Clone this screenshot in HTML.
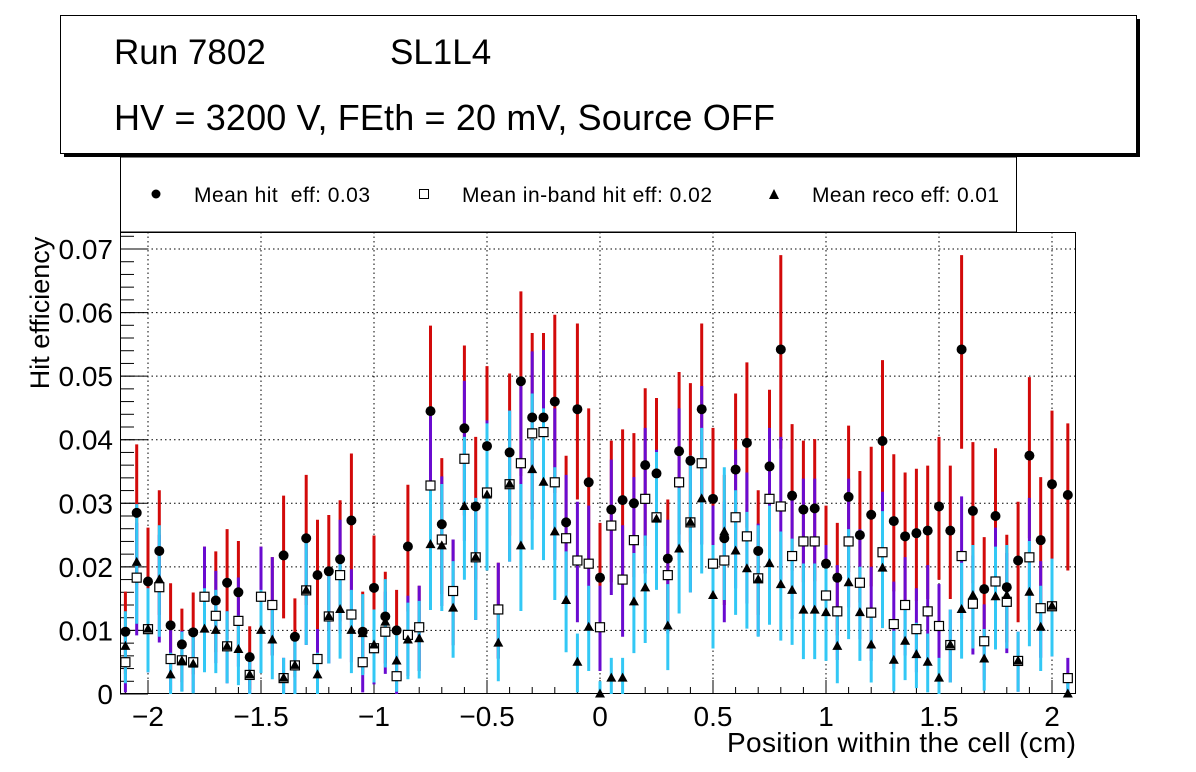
<!DOCTYPE html>
<html><head><meta charset="utf-8"><style>
html,body{margin:0;padding:0;background:#fff;}
svg{display:block;font-family:"Liberation Sans",sans-serif;}
</style></head><body>
<svg id="c" width="1196" height="772" viewBox="0 0 1196 772" xmlns="http://www.w3.org/2000/svg">
<rect x="0" y="0" width="1196" height="772" fill="#fff"/>
<rect x="64" y="19" width="1076" height="138" fill="#000"/>
<rect x="60.5" y="15.5" width="1076" height="138" fill="#fff" stroke="#000" stroke-width="1"/>
<text x="114" y="64" font-size="35">Run 7802</text>
<text x="390" y="64" font-size="35">SL1L4</text>
<text x="114" y="130" font-size="36" textLength="661">HV = 3200 V, FEth = 20 mV, Source OFF</text>
<g>
<rect x="120.5" y="157" width="896" height="75" fill="#fff" stroke="#000" stroke-width="1"/>
<circle cx="156" cy="194" r="4.5" fill="#000"/>
<text x="194" y="202" font-size="21" textLength="176" xml:space="preserve">Mean hit  eff: 0.03</text>
<rect x="419.5" y="189.5" width="9" height="9" fill="#fff" stroke="#000"/>
<text x="462" y="202" font-size="21" textLength="250">Mean in-band hit eff: 0.02</text>
<path d="M774 189 L779 199 L769 199 Z" fill="#000"/>
<text x="812" y="202" font-size="21" textLength="187">Mean reco eff: 0.01</text>
</g>
<g id="grid"></g><g id="axes"></g><g id="marks"></g>
<text x="42" y="313" font-size="27" text-anchor="middle" dominant-baseline="middle" transform="rotate(-90 42 313)">Hit efficiency</text>
<text x="1076" y="752" font-size="28" text-anchor="end" textLength="349">Position within the cell (cm)</text>
</svg>
<script>
const xCenters = [-2.1,-2.05,-2.0,-1.95,-1.9,-1.85,-1.8,-1.75,-1.7,-1.65,-1.6,-1.55,-1.5,-1.45,-1.4,-1.35,-1.3,-1.25,-1.2,-1.15,-1.1,-1.05,-1.0,-0.95,-0.9,-0.85,-0.8,-0.75,-0.7,-0.65,-0.6,-0.55,-0.5,-0.45,-0.4,-0.35,-0.3,-0.25,-0.2,-0.15,-0.1,-0.05,0,0.05,0.1,0.15,0.2,0.25,0.3,0.35,0.4,0.45,0.5,0.55,0.6,0.65,0.7,0.75,0.8,0.85,0.9,0.95,1.0,1.05,1.1,1.15,1.2,1.25,1.3,1.35,1.4,1.45,1.5,1.55,1.6,1.65,1.7,1.75,1.8,1.85,1.9,1.95,2.0,2.07];
const hitEff = [0.0098,0.0285,0.0177,0.0225,0.0108,0.0078,0.0097,0.0153,0.0147,0.0175,0.016,0.0058,0.0153,0.014,0.0218,0.009,0.0245,0.0187,0.0193,0.0212,0.0273,0.0098,0.0167,0.0122,0.01,0.0232,0.0105,0.0445,0.0267,0.0162,0.0418,0.0295,0.039,0.0133,0.038,0.0492,0.0435,0.0435,0.046,0.027,0.0448,0.0333,0.0183,0.029,0.0305,0.03,0.036,0.0347,0.0213,0.0382,0.0367,0.0448,0.0307,0.0245,0.0353,0.0395,0.0225,0.0358,0.0542,0.0312,0.029,0.0292,0.0205,0.0183,0.031,0.025,0.0282,0.0398,0.0272,0.0248,0.0253,0.0257,0.0295,0.0257,0.0542,0.0288,0.0165,0.028,0.0168,0.021,0.0375,0.0242,0.033,0.0313];
const inbandEff = [0.005,0.0183,0.0102,0.0168,0.0055,0.0053,0.005,0.0153,0.0123,0.0075,0.0115,0.003,0.0153,0.014,0.0025,0.0045,0.0163,0.0055,0.0122,0.0187,0.0125,0.005,0.0072,0.0098,0.0028,0.0093,0.0105,0.0328,0.0243,0.0162,0.037,0.0215,0.0317,0.0133,0.033,0.0363,0.041,0.0412,0.0333,0.0245,0.021,0.0205,0.0105,0.0265,0.018,0.0242,0.0307,0.0278,0.0187,0.0333,0.027,0.0363,0.0205,0.021,0.0278,0.0248,0.0182,0.0307,0.0295,0.0217,0.024,0.024,0.0155,0.013,0.024,0.0175,0.0128,0.0223,0.011,0.014,0.0102,0.013,0.0107,0.0077,0.0217,0.0142,0.0083,0.0177,0.0145,0.0052,0.0215,0.0135,0.0138,0.0025];
const recoEff = [0.0075,0.0207,0.0102,0.018,0.003,0.0052,0.0047,0.0102,0.01,0.0075,0.007,0.003,0.01,0.0085,0.0025,0.0045,0.0163,0.003,0.0122,0.0133,0.01,0.0095,0.0077,0.0113,0.0052,0.0085,0.0087,0.0235,0.0233,0.0135,0.0295,0.0215,0.0313,0.008,0.033,0.0233,0.0353,0.0333,0.0255,0.0147,0.005,0.0105,0.0,0.0025,0.0025,0.0145,0.0167,0.0275,0.0107,0.0228,0.027,0.0307,0.0155,0.0255,0.0225,0.0197,0.018,0.0205,0.0172,0.0163,0.0132,0.0132,0.0128,0.0075,0.0175,0.0128,0.0077,0.0198,0.0053,0.0083,0.0062,0.005,0.0025,0.0077,0.0133,0.0155,0.0055,0.0153,0.0155,0.0052,0.016,0.0105,0.0138,0.0];
const xTicks = [-2,-1.5,-1,-0.5,0,0.5,1,1.5,2];
const xTickLabels = ["\u22122","\u22121.5","\u22121","\u22120.5","0","0.5","1","1.5","2"];
const yTicks = [0,0.01,0.02,0.03,0.04,0.05,0.06,0.07];
const yTickLabels = ["0","0.01","0.02","0.03","0.04","0.05","0.06","0.07"];

const NS="http://www.w3.org/2000/svg";
const L=120,R=1076,T=232,B=694;
const X=v=>148+(v+2)*226;
const Y=v=>B-v*6357;
function mk(tag,attrs,parent){const e=document.createElementNS(NS,tag);for(const k in attrs)e.setAttribute(k,attrs[k]);parent.appendChild(e);return e;}
const grid=document.getElementById('grid'),axes=document.getElementById('axes'),marks=document.getElementById('marks');
xTicks.forEach((t,i)=>{
  const g=mk('line',{x1:X(t),x2:X(t),y1:T,y2:B,stroke:'#000','stroke-width':1,'stroke-dasharray':'1.5 3'},grid);
  
  
  const tk=mk('line',{x1:X(t),x2:X(t),y1:B,y2:B-14,stroke:'#000'},axes);
  
  
  const tx=mk('text',{x:X(t),y:726,'font-size':28,'text-anchor':'middle'},axes);
  tx.textContent=xTickLabels[i];
  
  
});
for(let v=-2.1;v<=2.1;v+=0.1){const mt=mk('line',{x1:X(v),x2:X(v),y1:B,y2:B-7,stroke:'#000'},axes);
  
  }
yTicks.forEach((t,i)=>{
  if(t>0){const g=mk('line',{x1:L,x2:R,y1:Y(t),y2:Y(t),stroke:'#000','stroke-width':1,'stroke-dasharray':'1.5 3'},grid);
  
  }
  const tk=mk('line',{x1:L,x2:L+28,y1:Y(t),y2:Y(t),stroke:'#000'},axes);
  
  
  const tx=mk('text',{x:113,y:Y(t)+10,'font-size':28,'text-anchor':'end'},axes);
  tx.textContent=yTickLabels[i];
  
  
});
for(let v=0.002;v<0.073;v+=0.002){const mt=mk('line',{x1:L,x2:L+14,y1:Y(v),y2:Y(v),stroke:'#000'},axes);
  
  }
const fr=mk('rect',{x:L+0.5,y:T+0.5,width:R-L-1,height:B-T-1,fill:'none',stroke:'#000','stroke-width':1},axes);



const err=v=>Math.sqrt(Math.max(v,0.001)*0.0045);
function bars(vals,color,name){
  vals.forEach((v,i)=>{const e=err(v);
    const b=mk('line',{x1:X(xCenters[i]),x2:X(xCenters[i]),y1:Y(Math.max(0,v-e)),y2:Y(Math.min(0.0725,v+e*0.95)),stroke:color,'stroke-width':3},marks);
    
    });
}
bars(hitEff,'#d20a0a','hit-error-bar');
bars(inbandEff,'#6a0bd0','inband-error-bar');
bars(recoEff,'#33c8f5','reco-error-bar');
hitEff.forEach((v,i)=>{const c=mk('circle',{cx:X(xCenters[i]),cy:Y(v),r:5,fill:'#000'},marks);
  
  });
inbandEff.forEach((v,i)=>{const r=mk('rect',{x:X(xCenters[i])-4.5,y:Y(v)-4.5,width:9,height:9,fill:'#fff',stroke:'#000','stroke-width':1.2},marks);
  
  });
recoEff.forEach((v,i)=>{const x=X(xCenters[i]),y=Y(v);
  const p=mk('path',{d:`M${x} ${y-5.5} L${x+5} ${y+3.5} L${x-5} ${y+3.5} Z`,fill:'#000'},marks);
  
  });
</script>
</body></html>
